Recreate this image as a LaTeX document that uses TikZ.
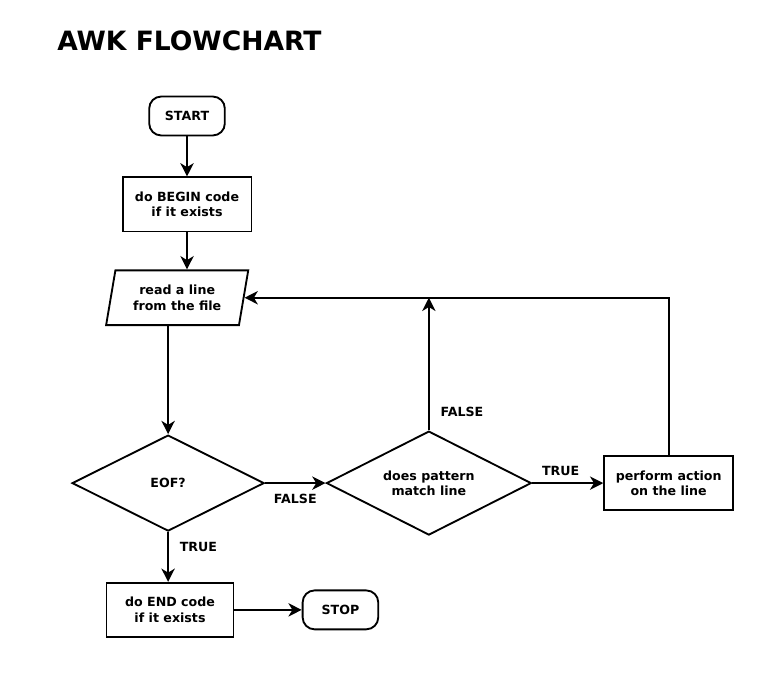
\documentclass[tikz,border=0pt]{standalone}
\usepackage{fontspec}
\setmainfont{DejaVu Sans}
\usepackage{tikz}
\usetikzlibrary{arrows.meta, positioning, calc, shapes.geometric}

\begin{document}
\begin{tikzpicture}[
  node distance=1cm and 1.6cm,
  base/.style={draw, line width=1.4pt, align=center, inner sep=2pt,
               font=\bfseries\fontsize{9.5}{11.5}\selectfont},
  term/.style={base, rectangle, rounded corners=9pt,
               minimum width=2.0cm, minimum height=1.03cm},
  proc/.style={base, rectangle, minimum width=3.41cm, minimum height=1.43cm},
  io/.style={base, trapezium, trapezium left angle=73, trapezium right angle=107,
             trapezium stretches body=true, minimum width=3.76cm, minimum height=1.45cm},
  decision/.style={base, diamond, aspect=2, inner sep=0pt},
  lbl/.style={font=\bfseries\fontsize{9.5}{11.5}\selectfont, inner sep=1pt},
  arr/.style={-{Stealth[length=10pt, width=10pt, inset=3pt]}, line width=1.4pt}
]
\useasboundingbox (0,0) rectangle (20.69,-18.02);
\node[anchor=base west, font=\bfseries\fontsize{20}{24}\selectfont, inner sep=0pt] (title)
  at (1.508,-1.349) {AWK FLOWCHART};
\node[term] (start) at (4.948,-3.069) {START};
\node[proc, below=1.06cm of start] (begin) {do BEGIN code\\if it exists};
\node[io, below=0.98cm of begin, xshift=-0.26cm] (read) {read a line\\from the file};
\node[decision, below=2.86cm of read, xshift=-0.24cm,
      minimum width=5.08cm, minimum height=2.54cm] (eof) {EOF?};
\node[decision, right=1.6cm of eof,
      minimum width=5.42cm, minimum height=2.75cm] (match) {does pattern\\match line};
\node[proc, right=1.88cm of match] (action) {perform action\\on the line};
\node[proc, below=1.32cm of eof, xshift=0.05cm, minimum width=3.36cm] (end) {do END code\\if it exists};
\node[term, right=1.78cm of end] (stop) {STOP};
\draw[arr] (start) -- (begin);
\draw[arr] (begin.south) -- (begin.south |- read.north);
\draw[arr] (read.south -| eof.north) -- (eof.north);
\draw[arr] (eof) -- node[lbl, midway, yshift=-0.42cm] {FALSE} (match);
\draw[arr] (eof.south) -- node[lbl, pos=0.3, right=0.25cm] {TRUE} (eof.south |- end.north);
\draw[arr] (end) -- (stop);
\draw[arr] (match) -- node[lbl, pos=0.4, yshift=0.32cm] {TRUE} (action);
\draw[arr] (match.north) -- node[lbl, pos=0.14, right=0.25cm] {FALSE} (match.north |- read.east);
\draw[arr] (action.north) |- (read.east);
\end{tikzpicture}
\end{document}
